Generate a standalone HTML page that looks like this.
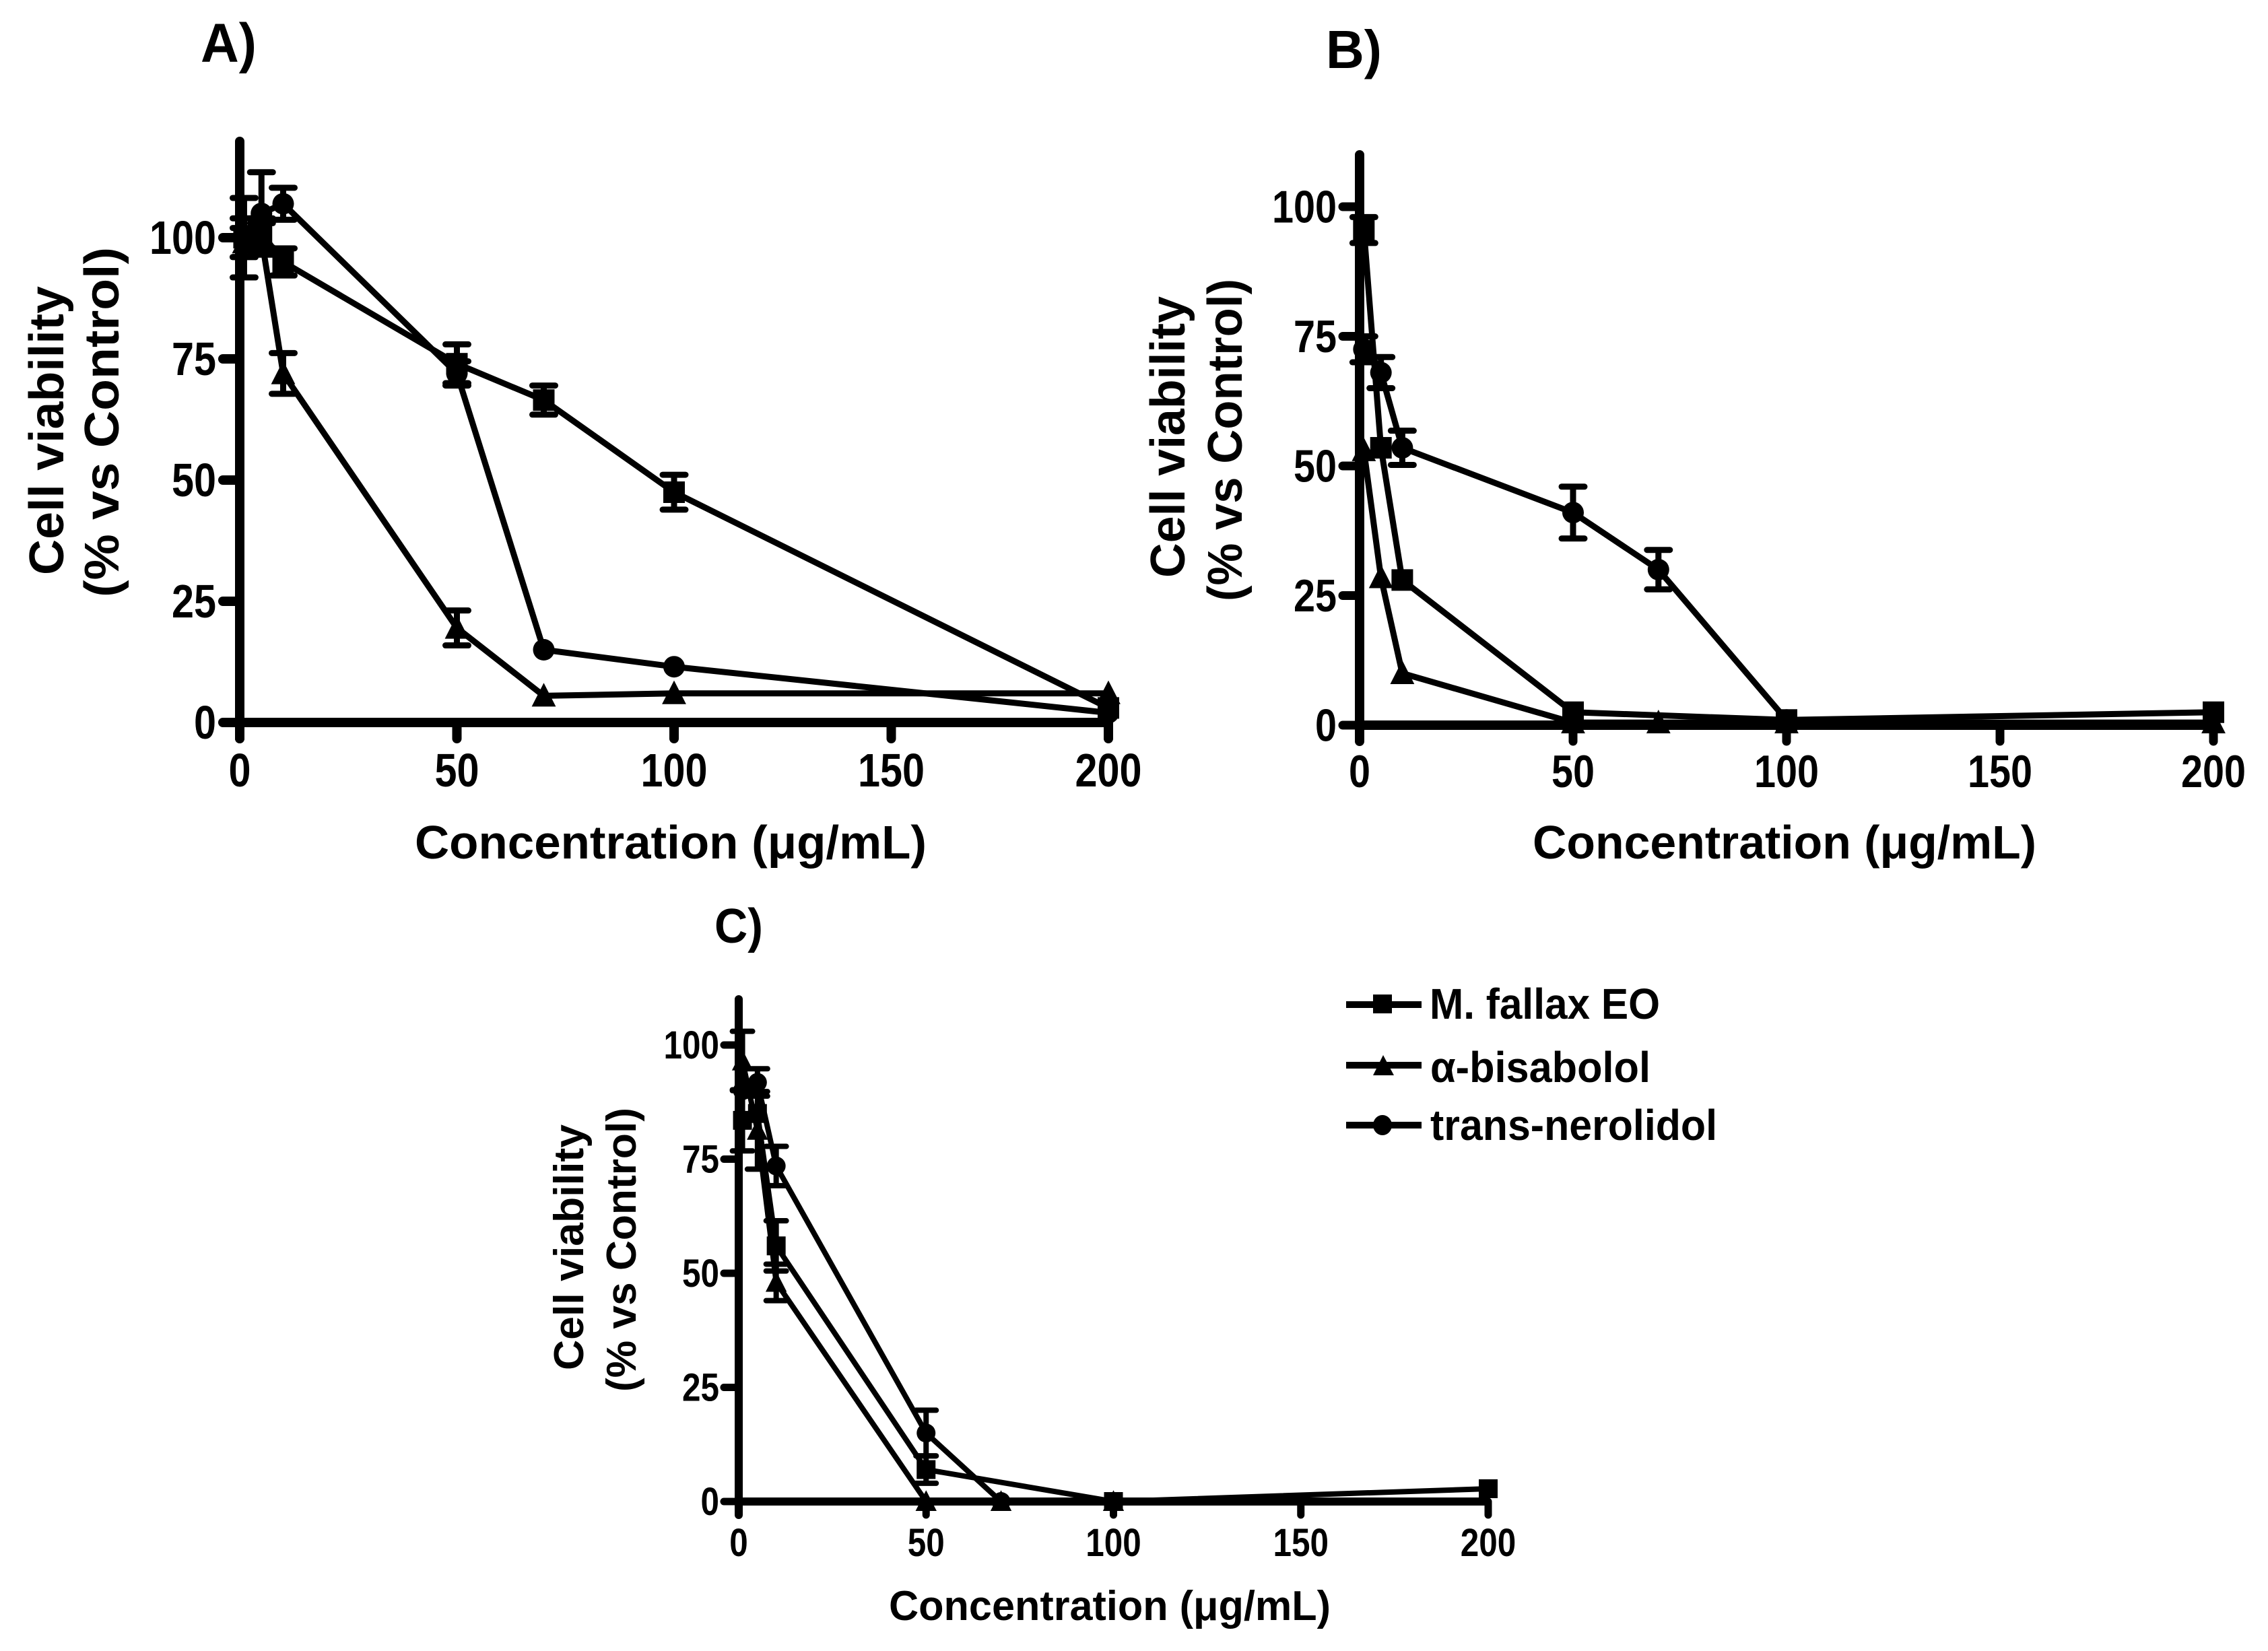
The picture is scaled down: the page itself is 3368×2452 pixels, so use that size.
<!DOCTYPE html>
<html>
<head>
<meta charset="utf-8">
<title>Cell viability charts</title>
<style>
html,body{margin:0;padding:0;background:#fff}
svg{display:block}
text{font-family:"Liberation Sans",sans-serif;font-weight:700;fill:#000}
</style>
</head>
<body>
<svg id="chart" xmlns="http://www.w3.org/2000/svg" width="3368" height="2452" viewBox="0 0 3368 2452">
<rect width="3368" height="2452" fill="#fff"/>

<text x="298" y="92" font-size="82" textLength="83" lengthAdjust="spacingAndGlyphs">A)</text>
<text x="1969" y="101" font-size="80" textLength="83" lengthAdjust="spacingAndGlyphs">B)</text>
<text x="1061" y="1400" font-size="72" textLength="72" lengthAdjust="spacingAndGlyphs">C)</text>

<text x="616" y="1275" font-size="70" textLength="760" lengthAdjust="spacingAndGlyphs">Concentration (μg/mL)</text>
<text x="2276" y="1275" font-size="70" textLength="748" lengthAdjust="spacingAndGlyphs">Concentration (μg/mL)</text>
<text x="1320" y="2406" font-size="62" textLength="656" lengthAdjust="spacingAndGlyphs">Concentration (μg/mL)</text>

<text transform="translate(94,854) rotate(-90)" font-size="72" textLength="429" lengthAdjust="spacingAndGlyphs">Cell viability</text>
<text transform="translate(176,887) rotate(-90)" font-size="72" textLength="520" lengthAdjust="spacingAndGlyphs">(% vs Control)</text>
<text transform="translate(1759,858) rotate(-90)" font-size="72" textLength="418" lengthAdjust="spacingAndGlyphs">Cell viability</text>
<text transform="translate(1844,893) rotate(-90)" font-size="72" textLength="479" lengthAdjust="spacingAndGlyphs">(% vs Control)</text>
<text transform="translate(866,2035) rotate(-90)" font-size="62" textLength="365" lengthAdjust="spacingAndGlyphs">Cell viability</text>
<text transform="translate(944,2067) rotate(-90)" font-size="62" textLength="422" lengthAdjust="spacingAndGlyphs">(% vs Control)</text>

<g>
  <line x1="1999" x2="2111" y1="1492" y2="1492" stroke="#000" stroke-width="10"/>
  <rect x="2039" y="1477" width="28" height="28" fill="#000"/>
  <text x="2123" y="1513" font-size="64" textLength="342" lengthAdjust="spacingAndGlyphs">M. fallax EO</text>
  <line x1="1999" x2="2111" y1="1582" y2="1582" stroke="#000" stroke-width="10"/>
  <polygon points="2054,1567 2070,1597 2039,1597" fill="#000"/>
  <text x="2124" y="1607" font-size="64" textLength="327" lengthAdjust="spacingAndGlyphs">α-bisabolol</text>
  <line x1="1999" x2="2111" y1="1671" y2="1671" stroke="#000" stroke-width="10"/>
  <ellipse cx="2053" cy="1671" rx="14" ry="15" fill="#000"/>
  <text x="2124" y="1693" font-size="64" textLength="426" lengthAdjust="spacingAndGlyphs">trans-nerolidol</text>
</g>
</svg>

<script>
var xTickValues = [0, 50, 100, 150, 200];
var yTickValues = [0, 25, 50, 75, 100];

var aSquareX = [1, 5, 10, 50, 70, 100, 200];
var aSquareY = [100, 101, 95, 74, 66.5, 47.5, 3];
var aSquareErr = [8.2, 3, 2.8, 4, 3, 3.6, 0];
var aTriangleX = [1, 5, 10, 50, 70, 100, 200];
var aTriangleY = [99, 100, 72, 19.5, 5.5, 6, 6];
var aTriangleErr = [3, 3, 4.2, 3.6, 0, 0, 0];
var aCircleX = [1, 5, 10, 50, 70, 100, 200];
var aCircleY = [100, 105, 107, 72, 15, 11.5, 2];
var aCircleErr = [4, 8.5, 3.3, 2.5, 0, 0, 0];

var bSquareX = [1, 5, 10, 50, 100, 200];
var bSquareY = [95.5, 53.5, 28, 2.5, 1, 2.5];
var bSquareErr = [2.5, 0, 0, 0, 0, 0];
var bTriangleX = [1, 5, 10, 50, 70, 100, 200];
var bTriangleY = [53, 28.5, 10, 0.5, 0.5, 0.5, 0.5];
var bTriangleErr = [0, 0, 0, 0, 0, 0, 0];
var bCircleX = [1, 5, 10, 50, 70, 100];
var bCircleY = [72.5, 68, 53.5, 41, 30, 1];
var bCircleErr = [2.5, 3, 3.3, 5, 3.8, 0];

var cSquareX = [1, 5, 10, 50, 100, 200];
var cSquareY = [83.5, 85, 56, 7, 0, 2.8];
var cSquareErr = [6.7, 0, 5.5, 3, 0, 0];
var cTriangleX = [1, 5, 10, 50, 70, 100];
var cTriangleY = [96.5, 81.3, 48, 0, 0, 0];
var cTriangleErr = [6.5, 8.5, 4, 0, 0, 0];
var cCircleX = [1, 5, 10, 50, 70];
var cCircleY = [90, 91.8, 73.5, 15, 0];
var cCircleErr = [0, 3, 4.3, 5, 0];

var svg = document.getElementById('chart');
var NS = 'http://www.w3.org/2000/svg';

function make(tag, attrs, parent) {
  var el = document.createElementNS(NS, tag);
  for (var k in attrs) { el.setAttribute(k, attrs[k]); }
  parent.appendChild(el);
  return el;
}

function drawMarker(kind, px, py, g, size) {
  var m;
  if (kind === 'square') {
    m = make('rect', { x: px - size, y: py - size, width: size * 2, height: size * 2, fill: '#000' }, g);
  } else if (kind === 'triangle') {
    m = make('polygon', { points: px + ',' + (py - size * 1.2) + ' ' + (px + size * 1.12) + ',' + (py + size) + ' ' + (px - size * 1.12) + ',' + (py + size), fill: '#000' }, g);
  } else {
    m = make('circle', { cx: px, cy: py, r: size, fill: '#000' }, g);
  }
  
  
}

function drawSeries(kind, xs, ys, errs, sx, sy, p, g0) {
  var g = make('g', {}, g0);
  
  
  var pts = [];
  for (var i = 0; i < xs.length; i++) {
    var px = sx(xs[i]), py = sy(ys[i]);
    pts.push(px + ',' + py);
    if (errs[i] > 0) {
      var top = sy(ys[i] + errs[i]), bot = sy(ys[i] - errs[i]);
      var stem = make('line', { x1: px, x2: px, y1: top, y2: bot, stroke: '#000', 'stroke-width': p.lw }, g);
      
      
      var capT = make('line', { x1: px - p.cap, x2: px + p.cap, y1: top, y2: top, stroke: '#000', 'stroke-width': p.lw, 'stroke-linecap': 'round' }, g);
      
      
      var capB = make('line', { x1: px - p.cap, x2: px + p.cap, y1: bot, y2: bot, stroke: '#000', 'stroke-width': p.lw, 'stroke-linecap': 'round' }, g);
      
      
    }
  }
  var line = make('polyline', { points: pts.join(' '), fill: 'none', stroke: '#000', 'stroke-width': p.lw, 'stroke-linejoin': 'round' }, g);
  
  
  for (var j = 0; j < xs.length; j++) {
    drawMarker(kind, sx(xs[j]), sy(ys[j]), g, p.ms);
  }
}

function drawPanel(p, series) {
  var g = make('g', {}, svg);
  
  
  function sx(v) { return p.x0 + v * p.ux; }
  function sy(v) { return p.y0 - v * p.uy; }

  var yAxis = make('line', { x1: p.x0, x2: p.x0, y1: p.top, y2: p.bottom, stroke: '#000', 'stroke-width': p.ax, 'stroke-linecap': 'round' }, g);
  
  
  var xAxis = make('line', { x1: p.x0, x2: sx(200), y1: p.y0, y2: p.y0, stroke: '#000', 'stroke-width': p.ax }, g);
  
  

  xTickValues.forEach(function (v) {
    var t = make('line', { x1: sx(v), x2: sx(v), y1: p.y0, y2: p.bottom, stroke: '#000', 'stroke-width': p.tick, 'stroke-linecap': 'round' }, g);
    
    
    var s = String(v);
    var l = make('text', { x: sx(v), y: p.xLabelY, 'font-size': p.fs, 'text-anchor': 'middle', textLength: s.length * p.dw, lengthAdjust: 'spacingAndGlyphs' }, g);
    
    
    l.textContent = s;
  });
  yTickValues.forEach(function (v) {
    var t = make('line', { x1: p.x0 - p.tl, x2: p.x0, y1: sy(v), y2: sy(v), stroke: '#000', 'stroke-width': p.tick, 'stroke-linecap': 'round' }, g);
    
    
    var s = String(v);
    var l = make('text', { x: p.yLabelX, y: sy(v) + p.fs * 0.345, 'font-size': p.fs, 'text-anchor': 'end', textLength: s.length * p.dw, lengthAdjust: 'spacingAndGlyphs' }, g);
    
    
    l.textContent = s;
  });

  series.forEach(function (s) {
    drawSeries(s[0], s[1], s[2], s[3], sx, sy, p, g);
  });
}

drawPanel(
  { name: 'panel-a', x0: 356, ux: 6.45, y0: 1073, uy: 7.2, top: 210, bottom: 1097, ax: 14, tick: 14, tl: 25, lw: 9, cap: 17, ms: 16, fs: 70, dw: 33, xLabelY: 1168, yLabelX: 321 },
  [['square', aSquareX, aSquareY, aSquareErr], ['triangle', aTriangleX, aTriangleY, aTriangleErr], ['circle', aCircleX, aCircleY, aCircleErr]]
);
drawPanel(
  { name: 'panel-b', x0: 2019, ux: 6.34, y0: 1077, uy: 7.7, top: 230, bottom: 1101, ax: 14, tick: 13, tl: 25, lw: 9, cap: 17, ms: 16, fs: 68, dw: 32, xLabelY: 1169, yLabelX: 1985 },
  [['square', bSquareX, bSquareY, bSquareErr], ['triangle', bTriangleX, bTriangleY, bTriangleErr], ['circle', bCircleX, bCircleY, bCircleErr]]
);
drawPanel(
  { name: 'panel-c', x0: 1097, ux: 5.565, y0: 2230, uy: 6.78, top: 1484, bottom: 2250, ax: 12, tick: 11, tl: 22, lw: 8, cap: 15, ms: 14, fs: 58, dw: 27.5, xLabelY: 2311, yLabelX: 1068 },
  [['square', cSquareX, cSquareY, cSquareErr], ['triangle', cTriangleX, cTriangleY, cTriangleErr], ['circle', cCircleX, cCircleY, cCircleErr]]
);
</script>
</body>
</html>
